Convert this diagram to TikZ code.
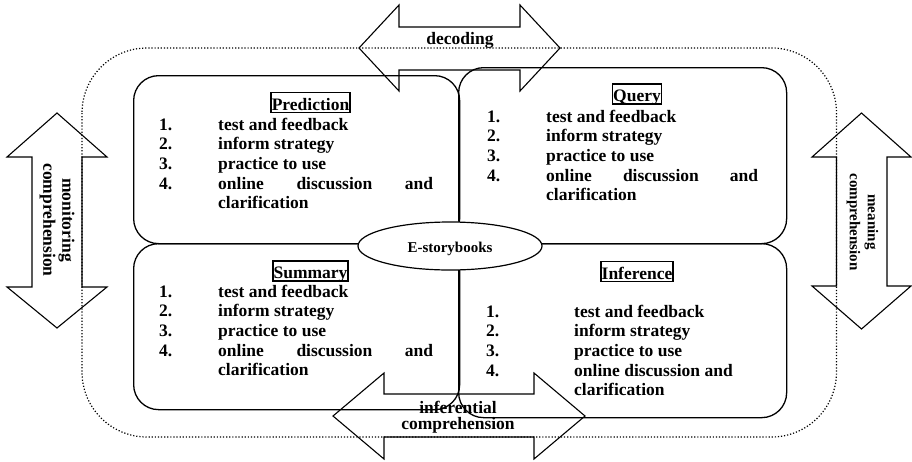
\documentclass[tikz,border=0pt]{standalone}
\usepackage{fontspec}
\setmainfont{Liberation Serif}
\usetikzlibrary{shapes.geometric}
\newcommand\steplist[6]{%
  \foreach \k/\t in {1/test and feedback,2/inform strategy,3/practice to use}{
    \node[itm] (#1n\k) at (#2,{#4+(\k-1)*19.7}) {\k.};
    \node[itm] (#1t\k) at (#3,{#4+(\k-1)*19.7}) {\t};
  }
  \node[itm] (#1n4) at (#2,{#4+3*19.7}) {4.};
  \node[itm] (#1t4) at (#3,{#4+3*19.7}) {#5};
  \node[itm] (#1t5) at (#3,{#4+4*19.7}) {clarification};
}
\newcommand\jline[1]{\hbox to #1pt{online\hfill discussion\hfill and}}
\begin{document}
\begin{tikzpicture}[x=1pt,y=-1pt,
  font=\fontsize{17.5}{19.7}\selectfont\bfseries,
  rbox/.style={draw,line width=1.3pt,rounded corners=25pt,anchor=north west,inner sep=0pt},
  bigarrow/.style={draw,line width=1.1pt,line join=miter},
  itm/.style={anchor=base west,inner sep=0pt},
  hd/.style={draw,line width=1.5pt,anchor=base,inner xsep=0.8pt,inner ysep=1.5pt,text height=16pt,text depth=1pt},
  lbl/.style={inner sep=0pt,align=center}]
\useasboundingbox (0,0) rectangle (912,461);
% dotted outer frame
\draw[line width=1.2pt,dash pattern=on 1.2pt off 1.9pt,rounded corners=65pt] (82,48) rectangle (836.5,437);
% big double arrows
\draw[bigarrow] (359,48) -- (399,5) -- (399,27) -- (520,27) -- (520,5) -- (560,48) -- (520,91) -- (520,70) -- (399,70) -- (399,91) -- cycle;
\draw[bigarrow] (57,113) -- (107,157) -- (82,157) -- (82,287) -- (107,287) -- (57,328) -- (7,287) -- (32,287) -- (32,157) -- (7,157) -- cycle;
\draw[bigarrow] (861.5,113) -- (911,157) -- (887,157) -- (887,286) -- (911,286) -- (861.5,329) -- (812,286) -- (836.5,286) -- (836.5,157) -- (812,157) -- cycle;
\draw[bigarrow] (333,416) -- (384,373) -- (384,394) -- (534,394) -- (534,373) -- (585,416) -- (534,459) -- (534,437) -- (384,437) -- (384,459) -- cycle;
% four strategy boxes
\node[rbox,minimum width=326pt,minimum height=168pt] (pred) at (133,75) {};
\node[rbox,minimum width=328pt,minimum height=176pt] (query) at (458,67) {};
\node[rbox,minimum width=326pt,minimum height=166pt] (summ) at (133,243) {};
\node[rbox,minimum width=328pt,minimum height=174pt] (infer) at (458,243) {};
% centre ellipse
\node[ellipse,draw,fill=white,line width=1.2pt,minimum width=184pt,minimum height=48pt,inner sep=0pt] (ebook) at (450,246) {};
\node[anchor=base,inner sep=0pt,font=\fontsize{15}{17}\selectfont\bfseries] (ebookt) at (450,252) {E-storybooks};
% headings
\node[hd] (predh) at (310.5,110) {Prediction};
\node[hd] (queryh) at (637,101.5) {Query};
\node[hd] (summh) at (310.5,278.5) {Summary};
\node[hd] (inferh) at (637,279) {Inference};
% lists
\steplist{p}{159}{218}{130}{\jline{215}}{}
\steplist{q}{487}{546}{122}{\jline{212}}{}
\steplist{s}{159}{218}{297}{\jline{215}}{}
\steplist{i}{486}{574}{317}{online discussion and}{}
% arrow labels
\node[anchor=base,inner sep=0pt] (dec) at (460,44.5) {decoding};
\node[lbl,rotate=-90,font=\fontsize{17.5}{19}\selectfont\bfseries] (mon) at (57,220) {monitoring\\comprehension};
\node[lbl,rotate=-90,font=\fontsize{15}{18}\selectfont\bfseries] (mean) at (862.5,222) {meaning\\comprehension};
\node[anchor=base,inner sep=0pt] (inf1) at (458,413) {inferential};
\node[anchor=base,inner sep=0pt] (inf2) at (458,429) {comprehension};
\end{tikzpicture}
\end{document}
